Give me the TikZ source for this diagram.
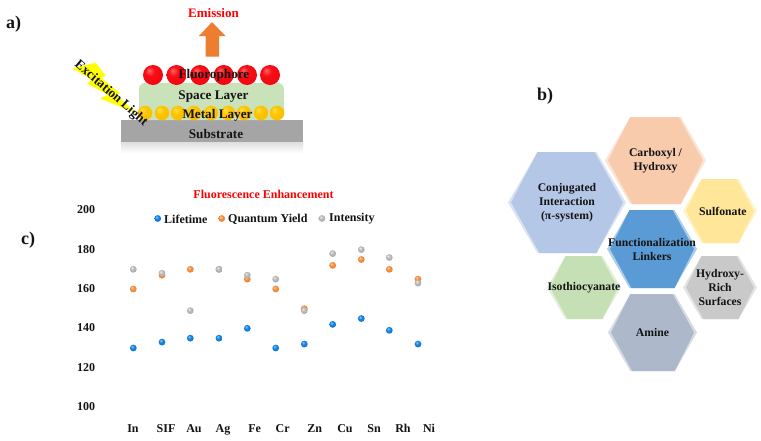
\documentclass[tikz,border=0pt]{standalone}
\usepackage{fontspec}
\setmainfont{Liberation Serif}
\usetikzlibrary{calc}
\definecolor{inkdark}{HTML}{141414}
\definecolor{arroworange}{HTML}{ED7D31}
\definecolor{layergreen}{HTML}{C9E2B9}
\definecolor{subgray}{HTML}{A5A5A5}
\definecolor{boltyellow}{HTML}{FFFF00}
\definecolor{hexblue}{HTML}{B4C7E7}
\definecolor{hexpeach}{HTML}{F8CBAD}
\definecolor{hexyellow}{HTML}{FFE699}
\definecolor{hexcentre}{HTML}{5B9BD5}
\definecolor{hexgray}{HTML}{C9C9C9}
\definecolor{hexslate}{HTML}{ADB9CA}
\definecolor{hexgreen}{HTML}{C5E0B4}
% Sphere shadings: bright highlight up and to the left, saturated body, slightly darker rim
\pgfdeclareradialshading{redsphere}{\pgfpoint{-10bp}{12bp}}{
  rgb(0bp)=(1,0.4,0.4); rgb(12bp)=(0.98,0.05,0.08); rgb(42bp)=(0.93,0,0.06); rgb(50bp)=(0.78,0,0.05)}
\pgfdeclareradialshading{goldsphere}{\pgfpoint{-10bp}{12bp}}{
  rgb(0bp)=(1,0.88,0.3); rgb(14bp)=(1,0.77,0); rgb(42bp)=(0.98,0.72,0); rgb(50bp)=(0.85,0.58,0)}
\pgfdeclareradialshading{bluesphere}{\pgfpoint{-10bp}{12bp}}{
  rgb(0bp)=(0.55,0.8,1); rgb(14bp)=(0.08,0.5,0.87); rgb(42bp)=(0.05,0.44,0.78); rgb(50bp)=(0.03,0.33,0.62)}
\pgfdeclareradialshading{orangesphere}{\pgfpoint{-10bp}{12bp}}{
  rgb(0bp)=(1,0.82,0.65); rgb(14bp)=(0.95,0.55,0.25); rgb(42bp)=(0.91,0.48,0.16); rgb(50bp)=(0.74,0.37,0.1)}
\pgfdeclareradialshading{graysphere}{\pgfpoint{-10bp}{12bp}}{
  rgb(0bp)=(0.93,0.93,0.93); rgb(14bp)=(0.72,0.72,0.72); rgb(42bp)=(0.63,0.63,0.63); rgb(50bp)=(0.47,0.47,0.47)}
\tikzset{
  lbl/.style={font=\fontsize{13.2}{15}\selectfont\bfseries, text=inkdark, align=center, inner sep=0pt},
  panel/.style={font=\fontsize{18}{20}\selectfont\bfseries, text=inkdark, inner sep=0pt},
  axislbl/.style={font=\fontsize{12}{14}\selectfont\bfseries, text=inkdark, inner sep=0pt},
  redtitle/.style={font=\fontsize{12}{14}\selectfont\bfseries, text=red, inner sep=0pt},
  hextext/.style={font=\fontsize{11.7}{14}\selectfont\bfseries, text=inkdark, align=center, inner sep=0pt},
  sphere/.style 2 args={circle, inner sep=0pt, minimum size=#1, shading=#2},
  dot/.style={circle, inner sep=0pt, minimum size=6.8pt, shading=#1},
}
% Hexagon with a lighter bevel on its upper-right and lower-left edges.
% Arguments: name, x0, x1, y0, y1, colour, label
\newcommand{\bevelhex}[7]{%
  \pgfmathsetmacro{\hw}{(#3-#2)/4}
  \pgfmathsetmacro{\hm}{(#4+#5)/2}
  \pgfmathsetmacro{\hcx}{(#2+#3)/2}
  \fill[#6!50!white] ({#2+\hw},#4) -- ({#3-\hw},#4) -- (#3,\hm) -- ({#3-\hw},#5) -- ({#2+\hw},#5) -- (#2,\hm) -- cycle;
  \fill[#6] ({#2+\hw},#4) -- ({#3-\hw-2},#4) -- ({#3-3},\hm) -- ({#3-\hw},#5) -- ({#2+\hw+2},#5) -- ({#2+3},\hm) -- cycle;
  \node[hextext] (#1) at (\hcx,\hm) {#7};
}
\begin{document}
\begin{tikzpicture}[x=1pt,y=-1pt]
\useasboundingbox (0,0) rectangle (761,440);
\fill[white] (0,0) rectangle (761,440);

% Panel a: layered stack
\node[panel] (pa) at (13.5,24) {a)};
\node[redtitle, font=\fontsize{13}{15}\selectfont\bfseries] (emission) at (213.5,13) {Emission};
\fill[arroworange] (212,22) -- (225.5,36) -- (219,36) -- (219,56.5) -- (205.5,56.5) -- (205.5,36) -- (199,36) -- cycle;

\shade[top color=black!13, bottom color=white] (121,142) rectangle (303,153);
\fill[subgray] (121,120) rectangle (303,142);
\fill[layergreen, rounded corners=6pt] (139,83) rectangle (284,120);
\foreach \bx/\bn in {153/1,176.5/2,200/3,223.7/4,247/5,270/6}
  \node[sphere={20pt}{redsphere}] (red\bn) at (\bx,75) {};
\foreach \bx/\bn in {145/1,162/2,178/3,194/4,211/5,228/6,244/7,261/8,277/9}
  \node[sphere={14.5pt}{goldsphere}] (gold\bn) at (\bx,113) {};
\fill[boltyellow] (72.3,68.3) -- (95.7,62.7) -- (105.7,76) -- (101,77.7) -- (120,93.3) -- (116,95) -- (136.7,113.3) -- (100,98.3) -- (108.3,95) -- (86.7,83.3) -- (92.3,80) -- cycle;
\node[lbl] (fluor) at (214,75) {Fluorophore};
\node[lbl] (space) at (213.5,97) {Space Layer};
\node[lbl] (metal) at (217.5,115.5) {Metal Layer};
\node[lbl] (subs) at (216,133.5) {Substrate};
\node[lbl, rotate=-41] (excite) at (111,93.5) {Excitation Light};

% Panel b: linker hexagons
\node[panel] (pb) at (545,96) {b)};
\bevelhex{conj}{508}{626}{152}{253}{hexblue}{Conjugated\\Interaction\\(π-system)}
\bevelhex{carb}{605}{706}{117}{204}{hexpeach}{Carboxyl /\\Hydroxy}
\bevelhex{sulf}{683}{757}{179}{243}{hexyellow}{\phantom{x}Sulfonate}
\bevelhex{hydr}{683}{757}{256}{319}{hexgray}{Hydroxy-\\Rich\\Surfaces}
\bevelhex{amin}{608}{697}{294}{371}{hexslate}{Amine}
\bevelhex{isot}{547}{621}{256}{319}{hexgreen}{Isothiocyanate}
\bevelhex{func}{607}{697}{210}{288}{hexcentre}{Functionalization\\Linkers}

% Panel c: scatter of enhancement values
\node[panel] (pc) at (28,240) {c)};
\node[redtitle] (ctitle) at (263.5,194.5) {Fluorescence Enhancement};
\foreach \tv/\ty in {200/210,180/250,160/289,140/328,120/367.5,100/406.5}
  \node[axislbl] (tick\tv) at (86,\ty) {\tv};
\foreach \tx/\tn in {133/In,166/SIF,194/Au,223/Ag,254.7/Fe,282.7/Cr,314.7/Zn,345/Cu,374/Sn,403/Rh,429/Ni}
  \node[axislbl, anchor=base] (cat\tn) at (\tx,432) {\tn};
\node[dot=bluesphere] (legblue) at (157.7,218.5) {};
\node[axislbl, anchor=west] (leglife) at (164,219) {Lifetime};
\node[dot=orangesphere] (legorange) at (221.7,218.5) {};
\node[axislbl, anchor=west] (legqy) at (228,219) {Quantum Yield};
\node[dot=graysphere] (leggray) at (322,218.5) {};
\node[axislbl, anchor=west] (legint) at (329,219) {Intensity};
\foreach \px/\v/\pn in {133.3/130/1,162/133/2,190.3/135/3,219/135/4,247.3/140/5,275.7/130/6,304.3/132/7,332.7/142/8,361.3/145/9,389.3/139/10,418/132/11}
  \node[dot=bluesphere] (life\pn) at (\px,{289-(\v-160)*1.967}) {};
\foreach \px/\v/\pn in {133.3/160/1,162/167/2,190.3/170/3,219/170/4,247.3/165/5,275.7/160/6,304.3/150/7,332.7/172/8,361.3/175/9,389.3/170/10,418/165/11}
  \node[dot=orangesphere] (qy\pn) at (\px,{289-(\v-160)*1.967}) {};
\foreach \px/\v/\pn in {133.3/170/1,162/168/2,190.3/149/3,219/170/4,247.3/167/5,275.7/165/6,304.3/149/7,332.7/178/8,361.3/180/9,389.3/176/10,418/163/11}
  \node[dot=graysphere] (int\pn) at (\px,{289-(\v-160)*1.967}) {};
\end{tikzpicture}
\end{document}
